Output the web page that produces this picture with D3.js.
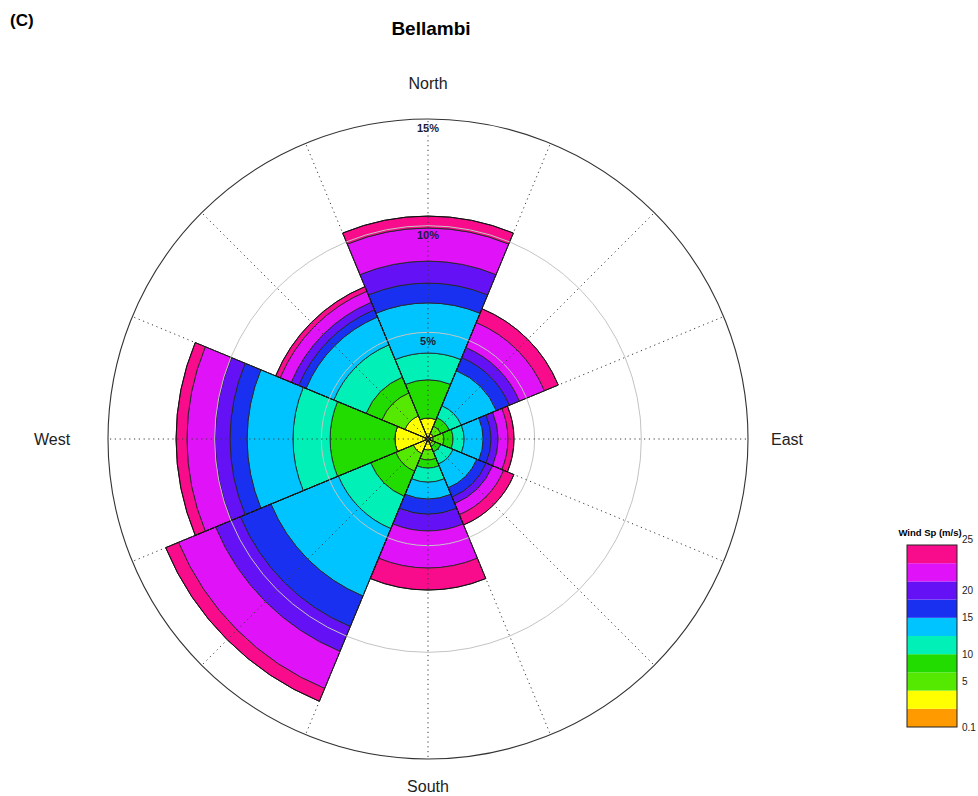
<!DOCTYPE html>
<html>
<head>
<meta charset="utf-8">
<script src="https://cdn.jsdelivr.net/npm/d3@7"></script>
<style>
  body { margin: 0; background: #fff; }
  svg { display: block; font-family: "Liberation Sans", Arial, sans-serif; }
</style>
</head>
<body>
<svg id="chart" width="978" height="796"></svg>
<script>
// Wind directions (sector centres, clockwise from north)
const directions = ["N", "NE", "E", "SE", "S", "SW", "W", "NW"];

// Wind speed classes, slowest first
const speedClasses = ["c1", "c2", "c3", "c4", "c5", "c6", "c7", "c8", "c9", "c10"];
const classColors = ["#ff9a00", "#ffff00", "#55e800", "#22dc00", "#00f0b8",
                     "#00c4ff", "#1a30f0", "#6412f5", "#e012f8", "#f80c8c"];

// Frequency (% of time) of each speed class per direction
const freqC1  = [0.14, 0.14, 0.14, 0.14, 0.14, 0.14, 0.14, 0.14];
const freqC2  = [0.84, 0.14, 0.09, 0.09, 0.38, 0.61, 1.41, 1.03];
const freqC3  = [0.00, 0.38, 0.52, 0.15, 0.46, 0.89, 0.00, 1.17];
const freqC4  = [1.79, 0.42, 0.42, 0.28, 0.38, 1.27, 3.04, 0.80];
const freqC5  = [1.26, 0.61, 0.52, 0.61, 0.66, 1.64, 1.74, 1.64];
const freqC6  = [2.35, 1.78, 0.89, 1.21, 0.79, 3.42, 2.15, 1.41];
const freqC7  = [0.93, 0.66, 0.37, 0.47, 0.71, 1.55, 0.80, 0.37];
const freqC8  = [1.03, 0.51, 0.33, 0.33, 0.79, 1.26, 0.70, 0.38];
const freqC9  = [1.55, 1.27, 0.47, 0.56, 1.74, 1.88, 1.32, 0.56];
const freqC10 = [0.56, 0.70, 0.28, 0.52, 1.03, 0.65, 0.51, 0.23];
const classFreqs = [freqC1, freqC2, freqC3, freqC4, freqC5, freqC6, freqC7, freqC8, freqC9, freqC10];

// Percentage rings
const ringValues = [5, 10, 15];
const maxPercent = 15;

// Compass labels
const compassLabels = ["North", "East", "South", "West"];
const compassAngles = [0, 90, 180, 270];

// Legend tick labels and where they sit along the class bar (in class units)
const legendTicks = [0.1, 5, 10, 15, 20, 25];
const legendTickClassPos = [0, 2.5, 4, 6, 7.5, 10];

const svg = d3.select("#chart");
const cx = 428, cy = 439, R = 320;

const r = d3.scaleLinear().domain([0, maxPercent]).range([0, R]);
const sector = 2 * Math.PI / directions.length;

// Build stacked table: one row per direction
const table = directions.map((d, i) => {
  const row = { dir: d, index: i };
  speedClasses.forEach((c, k) => { row[c] = classFreqs[k][i]; });
  return row;
});
const stacked = d3.stack().keys(speedClasses)(table);
const color = d3.scaleOrdinal().domain(speedClasses).range(classColors);

const g = svg.append("g").attr("transform", `translate(${cx},${cy})`);

const arc = d3.arc()
  .innerRadius(d => r(d[0]))
  .outerRadius(d => r(d[1]))
  .startAngle(d => d.data.index * sector - sector / 2)
  .endAngle(d => d.data.index * sector + sector / 2);

// Wind rose bands
g.append("g").selectAll("g")
  .data(stacked)
  .join("g")
  .attr("fill", d => color(d.key))
  .selectAll("path")
  .data(d => d)
  .join("path")
  .attr("d", arc)
  .attr("stroke", "#262626")
  .attr("stroke-width", 0.9);

// Sector outlines
const total = table.map(row => d3.sum(speedClasses, c => row[c]));
const outline = d3.arc()
  .innerRadius(0)
  .outerRadius(d => r(d))
  .startAngle((d, i) => i * sector - sector / 2)
  .endAngle((d, i) => i * sector + sector / 2);
g.append("g").selectAll("path")
  .data(total)
  .join("path")
  .attr("d", (d, i) => outline(d, i))
  .attr("fill", "none")
  .attr("stroke", "#111")
  .attr("stroke-width", 1);

// Inner percentage rings
g.append("g").selectAll("circle")
  .data(ringValues.filter(v => v < maxPercent))
  .join("circle")
  .attr("r", d => r(d))
  .attr("fill", "none")
  .attr("stroke", "#c4c4c4")
  .attr("stroke-width", 1);

// Dotted spokes every 22.5 degrees
const spokeAngles = d3.range(0, 360, 22.5);
g.append("g").selectAll("line")
  .data(spokeAngles)
  .join("line")
  .attr("x1", 0).attr("y1", 0)
  .attr("x2", d => R * Math.sin(d * Math.PI / 180))
  .attr("y2", d => -R * Math.cos(d * Math.PI / 180))
  .attr("stroke", "#3a3a3a")
  .attr("stroke-width", 1)
  .attr("stroke-dasharray", "1.2,3.6");

// Outer ring
g.append("circle")
  .attr("r", r(maxPercent))
  .attr("fill", "none")
  .attr("stroke", "#333")
  .attr("stroke-width", 1.1);

// Ring labels
g.append("g").selectAll("text")
  .data(ringValues)
  .join("text")
  .attr("x", 0)
  .attr("y", d => -r(d) + 9)
  .attr("dy", "0.35em")
  .attr("text-anchor", "middle")
  .attr("font-size", 11)
  .attr("font-weight", "bold")
  .attr("fill", "#1c1c3a")
  .text(d => d + "%");

// Compass labels, placed just outside the outer ring
const labelGap = { 0: 36, 90: 39, 180: 27, 270: 56 };
g.append("g").selectAll("text")
  .data(compassLabels)
  .join("text")
  .attr("x", (d, i) => (R + labelGap[compassAngles[i]]) * Math.sin(compassAngles[i] * Math.PI / 180))
  .attr("y", (d, i) => -(R + labelGap[compassAngles[i]]) * Math.cos(compassAngles[i] * Math.PI / 180))
  .attr("dy", "0.35em")
  .attr("text-anchor", "middle")
  .attr("font-size", 16)
  .attr("fill", "#222")
  .text(d => d);

// Title and panel tag
svg.append("text")
  .attr("x", 431).attr("y", 28).attr("dy", "0.35em")
  .attr("text-anchor", "middle")
  .attr("font-size", 19).attr("font-weight", "bold").attr("fill", "#000")
  .text("Bellambi");
svg.append("text")
  .attr("x", 10).attr("y", 20).attr("dy", "0.35em")
  .attr("font-size", 17).attr("font-weight", "bold").attr("fill", "#000")
  .text("(C)");

// Legend
const legX = 907, legW = 50, legTop = 545, legBottom = 727;
const legY = d3.scaleLinear().domain([0, speedClasses.length]).range([legBottom, legTop]);
const tickToClass = d3.scaleLinear().domain(legendTicks).range(legendTickClassPos);
const legend = svg.append("g");
legend.selectAll("rect")
  .data(speedClasses)
  .join("rect")
  .attr("x", legX)
  .attr("y", (d, i) => legY(i + 1))
  .attr("width", legW)
  .attr("height", (d, i) => legY(i) - legY(i + 1))
  .attr("fill", d => color(d));
legend.append("rect")
  .attr("x", legX).attr("y", legTop)
  .attr("width", legW).attr("height", legBottom - legTop)
  .attr("fill", "none").attr("stroke", "#222").attr("stroke-width", 1);
legend.selectAll("text.tick")
  .data(legendTicks)
  .join("text")
  .attr("class", "tick")
  .attr("x", legX + legW + 5)
  .attr("y", (d, i) => i === legendTicks.length - 1 ? legY(tickToClass(d)) - 6 : legY(tickToClass(d)))
  .attr("dy", "0.35em")
  .attr("font-size", 10)
  .attr("fill", "#222")
  .text(d => d);
legend.append("text")
  .attr("x", legX + legW / 2 - 2).attr("y", 533).attr("dy", "0.35em")
  .attr("text-anchor", "middle")
  .attr("font-size", 9.5).attr("font-weight", "bold").attr("fill", "#000")
  .text("Wind Sp (m/s)");
</script>
</body>
</html>
